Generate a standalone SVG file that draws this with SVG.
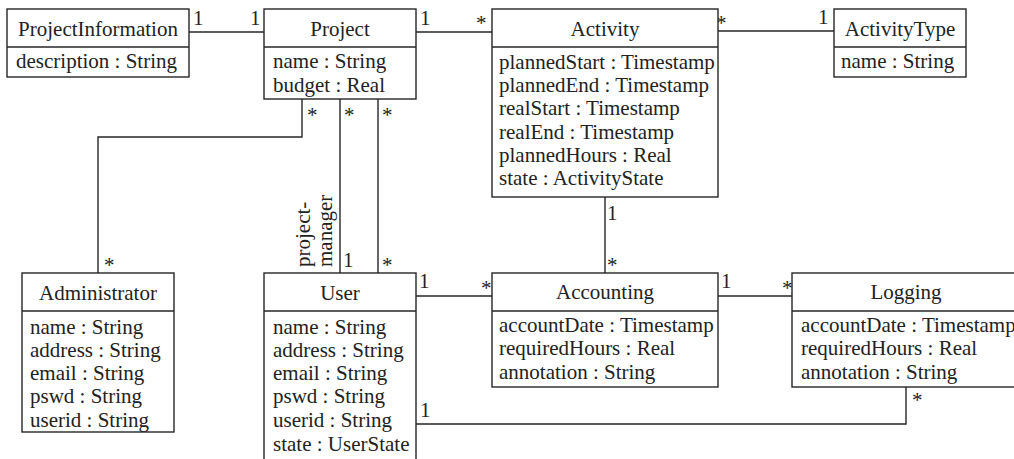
<svg xmlns="http://www.w3.org/2000/svg" width="1014" height="459" viewBox="0 0 1014 459">
  <style>
    .box { fill: #ffffff; stroke: #262626; stroke-width: 1.4; }
    .div { stroke: #262626; stroke-width: 1.4; }
    .wire { fill: none; stroke: #262626; stroke-width: 1.4; }
    text { font-size: 21px; fill: #222222; }
    .hd { text-anchor: middle; }
  </style>
  <rect width="1014" height="459" fill="#ffffff"/>
  <g font-family="'Liberation Serif', 'DejaVu Serif', serif">
  <!-- associations -->
  <g id="connectors">
    <path class="wire" d="M189,32 H264"/>
    <path class="wire" d="M416,32 H492"/>
    <path class="wire" d="M718,31 H834"/>
    <path class="wire" d="M302,99 V137 H98 V273"/>
    <path class="wire" d="M340,99 V273"/>
    <path class="wire" d="M378,99 V273"/>
    <path class="wire" d="M605,197 V273"/>
    <path class="wire" d="M416,296 H492"/>
    <path class="wire" d="M718,296 H792"/>
    <path class="wire" d="M416,424 H906 V387"/>

    <!-- multiplicities -->
    <text x="193" y="25">1</text>
    <text x="250" y="25">1</text>
    <text x="420" y="25">1</text>
    <text x="476" y="30">*</text>
    <text x="716" y="30">*</text>
    <text x="818" y="24">1</text>

    <text x="307" y="122">*</text>
    <text x="344" y="122">*</text>
    <text x="382" y="122">*</text>
    <text x="104" y="272">*</text>
    <text x="343" y="267">1</text>
    <text x="382" y="272">*</text>

    <text x="607" y="220">1</text>
    <text x="607" y="272">*</text>

    <text x="419" y="288">1</text>
    <text x="481" y="295">*</text>
    <text x="721" y="288">1</text>
    <text x="782" y="295">*</text>
    <text x="420" y="417">1</text>
    <text x="912" y="407">*</text>

    <!-- role name -->
    <text transform="translate(310,267) rotate(-90)">project-</text>
    <text transform="translate(332,267) rotate(-90)">manager</text>
  </g>

  <g id="ProjectInformation">
    <rect class="box" x="7" y="9" width="182" height="68"/>
    <line class="div" x1="7" y1="47" x2="189" y2="47"/>
    <text class="hd" x="98" y="36">ProjectInformation</text>
    <text x="16" y="68">description : String</text>
  </g>

  <g id="Project">
    <rect class="box" x="264" y="9" width="152" height="90"/>
    <line class="div" x1="264" y1="47" x2="416" y2="47"/>
    <text class="hd" x="340" y="36">Project</text>
    <text x="273" y="68">name : String</text>
    <text x="273" y="92">budget : Real</text>
  </g>

  <g id="Activity">
    <rect class="box" x="492" y="9" width="226" height="188"/>
    <line class="div" x1="492" y1="47" x2="718" y2="47"/>
    <text class="hd" x="605" y="36">Activity</text>
    <text x="499" y="69">plannedStart : Timestamp</text>
    <text x="499" y="92">plannedEnd : Timestamp</text>
    <text x="499" y="115">realStart : Timestamp</text>
    <text x="499" y="139">realEnd : Timestamp</text>
    <text x="499" y="162">plannedHours : Real</text>
    <text x="499" y="185">state : ActivityState</text>
  </g>

  <g id="ActivityType">
    <rect class="box" x="834" y="9" width="132" height="68"/>
    <line class="div" x1="834" y1="47" x2="966" y2="47"/>
    <text class="hd" x="900" y="36">ActivityType</text>
    <text x="841" y="68">name : String</text>
  </g>

  <g id="Administrator">
    <rect class="box" x="22" y="273" width="152" height="159"/>
    <line class="div" x1="22" y1="311" x2="174" y2="311"/>
    <text class="hd" x="98" y="300">Administrator</text>
    <text x="30" y="334">name : String</text>
    <text x="30" y="357">address : String</text>
    <text x="30" y="380">email : String</text>
    <text x="30" y="403">pswd : String</text>
    <text x="30" y="427">userid : String</text>
  </g>

  <g id="User">
    <rect class="box" x="264" y="273" width="152" height="195"/>
    <line class="div" x1="264" y1="311" x2="416" y2="311"/>
    <text class="hd" x="340" y="300">User</text>
    <text x="273" y="334">name : String</text>
    <text x="273" y="357">address : String</text>
    <text x="273" y="380">email : String</text>
    <text x="273" y="403">pswd : String</text>
    <text x="273" y="427">userid : String</text>
    <text x="273" y="451">state : UserState</text>
  </g>

  <g id="Accounting">
    <rect class="box" x="492" y="273" width="226" height="114"/>
    <line class="div" x1="492" y1="311" x2="718" y2="311"/>
    <text class="hd" x="605" y="299">Accounting</text>
    <text x="499" y="332">accountDate : Timestamp</text>
    <text x="499" y="355">requiredHours : Real</text>
    <text x="499" y="379">annotation : String</text>
  </g>

  <g id="Logging">
    <rect class="box" x="792" y="273" width="228" height="114"/>
    <line class="div" x1="792" y1="311" x2="1020" y2="311"/>
    <text class="hd" x="906" y="299">Logging</text>
    <text x="801" y="332">accountDate : Timestamp</text>
    <text x="801" y="355">requiredHours : Real</text>
    <text x="801" y="379">annotation : String</text>
  </g>
  </g>
</svg>
